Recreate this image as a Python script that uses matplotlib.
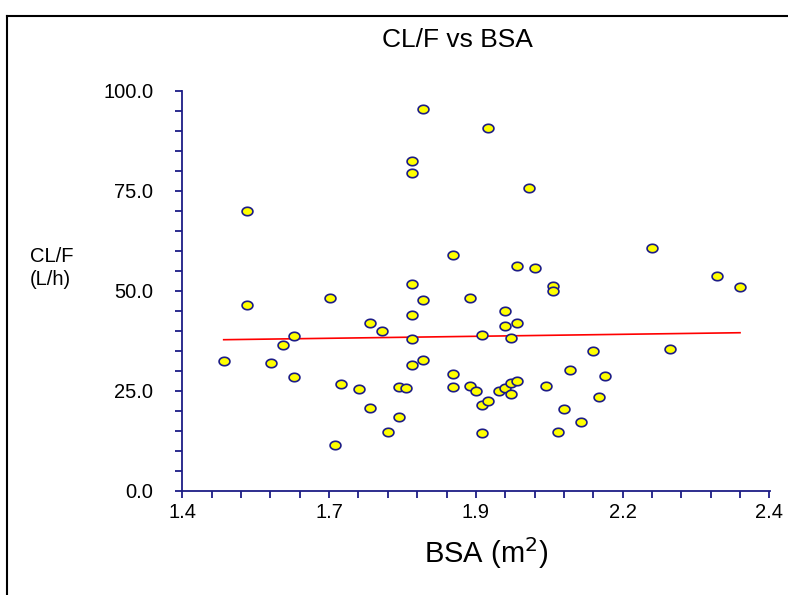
import numpy as np
import matplotlib
matplotlib.use("Agg")
import matplotlib.pyplot as plt
from matplotlib.path import Path
from matplotlib.lines import Line2D

bsa = [1.4705, 1.5107, 1.5102, 1.5505, 1.571, 1.5907, 1.5907, 1.651, 1.66, 1.6708,
       1.7004, 1.7202, 1.7202, 1.7406, 1.7508, 1.769, 1.769, 1.7805, 1.7907, 1.7907,
       1.7907, 1.7907, 1.7907, 1.7907, 1.8104, 1.8104, 1.8104, 1.8605, 1.8605, 1.8605,
       1.8905, 1.8905, 1.9002, 1.9104, 1.9104, 1.9104, 1.9206, 1.9206, 1.9398, 1.950,
       1.950, 1.950, 1.9603, 1.9603, 1.9603, 1.9705, 1.9705, 1.9705, 1.99, 2.0006,
       2.0199, 2.0308, 2.0308, 2.0398, 2.050, 2.0608, 2.0795, 2.0994, 2.110, 2.1199,
       2.2004, 2.230, 2.3106, 2.3498]
clf = [32.35, 70.0, 46.35, 31.9, 36.4, 38.75, 28.4, 48.2, 11.35, 26.7,
       25.35, 42.0, 20.7, 39.9, 14.6, 26.0, 18.5, 25.6, 82.5, 79.4,
       51.75, 44.0, 37.85, 31.35, 95.5, 47.7, 32.75, 58.85, 29.2, 25.85,
       48.25, 26.25, 24.9, 38.9, 21.5, 14.4, 90.6, 22.5, 24.85, 44.9,
       41.25, 25.6, 38.2, 26.85, 24.2, 56.25, 41.85, 27.4, 75.6, 55.75,
       26.1, 51.25, 50.0, 14.75, 20.4, 30.2, 17.2, 34.85, 23.4, 28.75,
       60.7, 35.5, 53.6, 50.9]

x_major = [1.4, 1.65, 1.9, 2.15, 2.4]
x_labels = ["1.4", "1.7", "1.9", "2.2", "2.4"]
y_major = [0, 25, 50, 75, 100]
y_labels = ["0.0", "25.0", "50.0", "75.0", "100.0"]

plt.rcParams['font.family'] = ["Liberation Sans", "DejaVu Sans"]

navy = "#1c1c86"

fig = plt.figure(figsize=(7.88, 5.95), dpi=100)
ax = fig.add_axes([182.3/788, 1-490.7/595, (769.5-182.3)/788, 400/595])

# regression line
coef = np.polyfit(bsa, clf, 1)
xs = np.array([min(bsa), max(bsa)])
ax.plot(xs, np.polyval(coef, xs), color="#ff0000", lw=1.2, zorder=2)

# elliptical marker
t = np.linspace(0, 2*np.pi, 41)
verts = np.column_stack([np.cos(t), 0.78*np.sin(t)])
ell = Path(verts, closed=True)
ax.plot(bsa, clf, linestyle="none", marker=ell, markersize=7.8,
        markerfacecolor="#ffff00", markeredgecolor=navy, markeredgewidth=1.2, zorder=3)

ax.set_xlim(1.4, 2.4)
ax.set_ylim(0, 100)
for s in ["top", "right"]:
    ax.spines[s].set_visible(False)
for s in ["left", "bottom"]:
    ax.spines[s].set_color(navy)
    ax.spines[s].set_linewidth(1.3)

ax.set_xticks(x_major)
ax.set_xticklabels(x_labels)
ax.set_xticks(np.arange(1.4, 2.4001, 0.05), minor=True)
ax.set_yticks(y_major)
ax.set_yticklabels(y_labels)
ax.set_yticks(np.arange(0, 100.01, 5), minor=True)
ax.tick_params(which="both", direction="out", length=5, width=1.3, color=navy,
               labelsize=14.5, labelcolor="black")
ax.tick_params(axis="y", which="both", pad=16)
ax.tick_params(axis="x", which="both", pad=4)

fig.text(457/788, 1-40/595, "CL/F vs BSA", ha="center", va="center", fontsize=19)
fig.text(30/788, 1-268/595, "CL/F\n(L/h)", ha="left", va="center", fontsize=14.5,
         linespacing=1.3)
fig.text(486/788, 1-553/595, "BSA (m$^2$)", ha="center", va="center", fontsize=21)

# figure frame (left and top edges)
fig.add_artist(Line2D([7/788, 7/788], [0, 1-16/595], color="black", lw=1.5,
                      transform=fig.transFigure))
fig.add_artist(Line2D([7/788, 1], [1-16/595, 1-16/595], color="black", lw=1.5,
                      transform=fig.transFigure))

fig.savefig("out.png", dpi=100)
